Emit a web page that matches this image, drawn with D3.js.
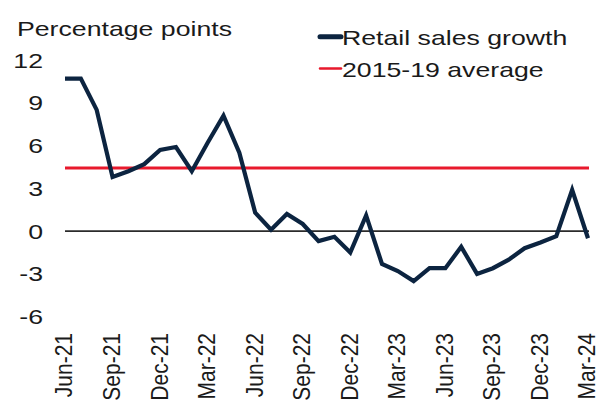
<!DOCTYPE html>
<html>
<head>
<meta charset="utf-8">
<script src="https://cdn.jsdelivr.net/npm/d3@7"></script>
<style>
  html, body { margin: 0; padding: 0; background: #fff; }
  svg { display: block; }
  text { font-family: "Liberation Sans", Arial, sans-serif; fill: #1a1a1a; }
</style>
</head>
<body>
<svg id="chart" width="598" height="400"></svg>
<script>
const months = ["Jun-21","Jul-21","Aug-21","Sep-21","Oct-21","Nov-21","Dec-21",
  "Jan-22","Feb-22","Mar-22","Apr-22","May-22","Jun-22","Jul-22","Aug-22","Sep-22","Oct-22","Nov-22","Dec-22",
  "Jan-23","Feb-23","Mar-23","Apr-23","May-23","Jun-23","Jul-23","Aug-23","Sep-23","Oct-23","Nov-23","Dec-23",
  "Jan-24","Feb-24","Mar-24"];
const retailGrowth = [10.7,10.7,8.5,3.8,4.2,4.7,5.7,
  5.9,4.2,6.2,8.1,5.5,1.3,0.1,1.2,0.5,-0.7,-0.4,-1.5,
  1.1,-2.3,-2.8,-3.5,-2.6,-2.6,-1.1,-3.0,-2.6,-2.0,-1.2,-0.8,
  -0.35,2.9,-0.5];
const average2015_19 = 4.43;
const yTicks = [-6,-3,0,3,6,9,12];
const xTickLabels = ["Jun-21","Sep-21","Dec-21","Mar-22","Jun-22","Sep-22","Dec-22","Mar-23","Jun-23","Sep-23","Dec-23","Mar-24"];
const seriesNames = ["Retail sales growth","2015-19 average"];
const yTitle = "Percentage points";

const svg = d3.select("#chart");
const SX = 1.27; // horizontal stretch of the type
const navy = "#0c2440", red = "#e8192c";

const x = d3.scalePoint().domain(months).range([65, 588]);
const y = d3.scaleLinear().domain([-6, 12]).range([316.7, 60]);

// y tick labels
svg.append("g").selectAll("text").data(yTicks).join("text")
  .attr("transform", d => `translate(43,${y(d)}) scale(${SX},1)`)
  .attr("text-anchor", "end").attr("dy", "0.36em")
  .attr("font-size", 21).text(d => d);

// y title
svg.append("text").attr("transform", `translate(17,36) scale(${SX},1)`)
  .attr("font-size", 21).text(yTitle);

// x tick labels
svg.append("g").selectAll("text").data(xTickLabels).join("text")
  .attr("transform", d => `translate(${x(d) - 1.5},333) scale(1.18,1) rotate(-90)`)
  .attr("text-anchor", "end").attr("dy", "0.36em")
  .attr("font-size", 21).text(d => d);

// zero line
svg.append("line").attr("x1", x(months[0])).attr("x2", x(months[months.length-1]) + 1)
  .attr("y1", y(0)).attr("y2", y(0)).attr("stroke", "#2b2b2b").attr("stroke-width", 1.6);

// average line
svg.append("line").attr("x1", x(months[0])).attr("x2", x(months[months.length-1]) + 1)
  .attr("y1", y(average2015_19)).attr("y2", y(average2015_19))
  .attr("stroke", red).attr("stroke-width", 3);

// series line
const line = d3.line().x((d, i) => x(months[i])).y(d => y(d));
svg.append("path").datum(retailGrowth).attr("d", line)
  .attr("fill", "none").attr("stroke", navy).attr("stroke-width", 4.2)
  .attr("stroke-linejoin", "miter").attr("stroke-miterlimit", 6);

// legend
const legend = svg.append("g");
legend.append("line").attr("x1", 320).attr("x2", 341).attr("y1", 36.7).attr("y2", 36.7)
  .attr("stroke", navy).attr("stroke-width", 5).attr("stroke-linecap", "round");
legend.append("text").attr("transform", `translate(342,45) scale(${SX},1)`)
  .attr("font-size", 21).text(seriesNames[0]);
legend.append("line").attr("x1", 320).attr("x2", 341).attr("y1", 68.5).attr("y2", 68.5)
  .attr("stroke", red).attr("stroke-width", 2.5).attr("stroke-linecap", "round");
legend.append("text").attr("transform", `translate(342,76.5) scale(${SX},1)`)
  .attr("font-size", 21).text(seriesNames[1]);
</script>
</body>
</html>
